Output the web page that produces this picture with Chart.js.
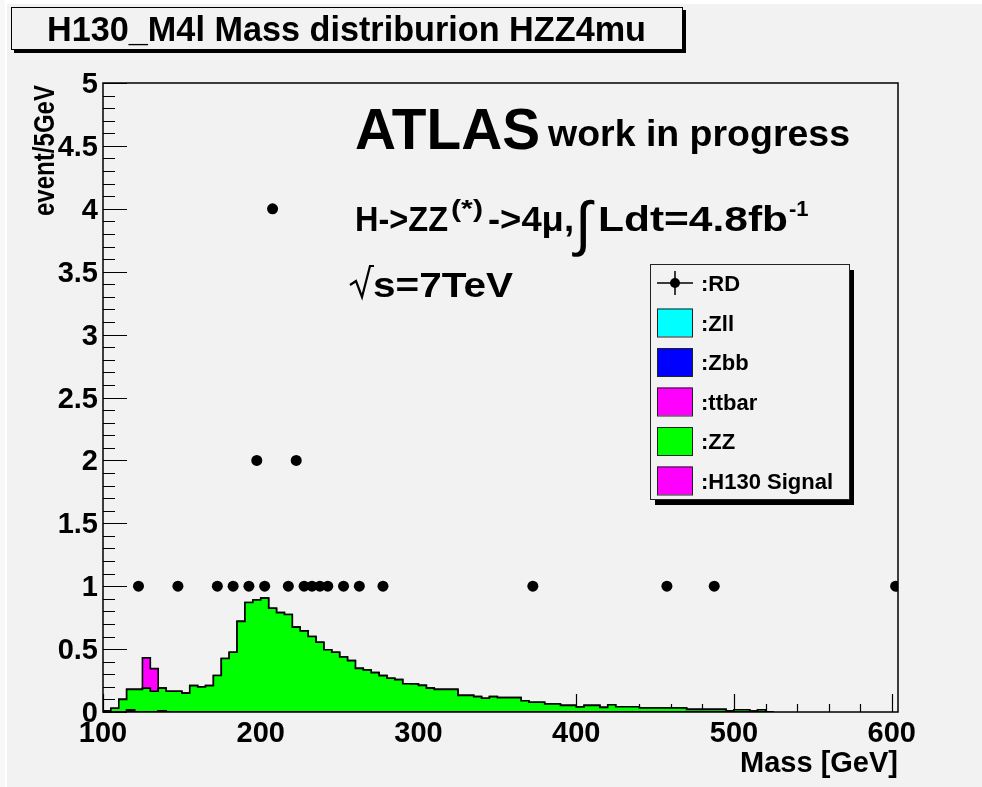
<!DOCTYPE html>
<html>
<head>
<meta charset="utf-8">
<script src="https://cdn.jsdelivr.net/npm/chart.js@4.4.0/dist/chart.umd.min.js"></script>
<style>
  body { margin: 0; background: #f2f2f2; }
  canvas { display: block; }
</style>
</head>
<body>
<canvas id="chart" width="982" height="787"></canvas>
<script>
// histogram binning: 5 GeV bins from 100 GeV
var binStart = 100;
var binWidth = 5;

// MC contributions per bin (events / 5 GeV)
var zz = [0.01, 0.03, 0.10, 0.165, 0.18, 0.19, 0.165, 0.18, 0.165, 0.165,
          0.15, 0.21, 0.20, 0.21, 0.29, 0.425, 0.475, 0.72, 0.87, 0.89,
          0.905, 0.825, 0.79, 0.775, 0.675, 0.645, 0.60, 0.555, 0.495, 0.475,
          0.437, 0.408, 0.347, 0.334, 0.313, 0.289, 0.268, 0.257, 0.225, 0.223,
          0.212, 0.19, 0.18, 0.18, 0.18, 0.132, 0.132, 0.122, 0.109, 0.122,
          0.114, 0.114, 0.114, 0.09, 0.077, 0.077, 0.064, 0.064, 0.053, 0.053,
          0.04, 0.053, 0.053, 0.037, 0.058, 0.042, 0.042, 0.042, 0.032, 0.032,
          0.032, 0.032, 0.032, 0.032, 0.021, 0.021, 0.021, 0.021, 0.021, 0.01,
          0.018, 0.018, 0.008, 0.018, 0];
var zbb = [0, 0, 0, 0.015, 0, 0, 0, 0.01];
var zll = [];    // nothing visible
var ttbar = [];  // nothing visible
var h130 = [0, 0, 0, 0, 0, 0.24, 0.18];

// real data (RD): bin centres and event counts
var rdMass = [122.5, 147.5, 172.5, 182.5, 192.5, 197.5, 202.5, 207.5, 217.5, 222.5,
              227.5, 232.5, 237.5, 242.5, 252.5, 262.5, 277.5, 372.5, 457.5, 487.5, 602.5];
var rdEvents = [1, 1, 1, 1, 1, 2, 1, 4, 1, 2,
                1, 1, 1, 1, 1, 1, 1, 1, 1, 1, 1];

var xTickLabels = ['100', '200', '300', '400', '500', '600'];
var yTickLabels = ['0', '0.5', '1', '1.5', '2', '2.5', '3', '3.5', '4', '4.5', '5'];

var FONT = '"Liberation Sans", Arial, Helvetica, sans-serif';
var BG = '#f2f2f2';

// stack: Zll, Zbb, ttbar, ZZ, signal (bottom -> top)
var nBins = zz.length;
function val(a, i) { return a[i] || 0; }
var stackOrder = [zll, zbb, ttbar, zz, h130];
var levels = [];
var run = [];
for (var i = 0; i < nBins; i++) run.push(0);
stackOrder.forEach(function (h) {
  var pts = [];
  for (var i = 0; i < nBins; i++) {
    run[i] += val(h, i);
    pts.push({ x: binStart + i * binWidth, y: run[i] });
  }
  pts.push({ x: binStart + nBins * binWidth, y: 0 });
  levels.push(pts);
});

function stepSet(label, pts, color) {
  return {
    type: 'line', label: label, data: pts, stepped: true,
    borderColor: '#000', borderWidth: 1.6, backgroundColor: color,
    fill: 'origin', pointRadius: 0
  };
}

var rdPoints = rdMass.map(function (m, i) { return { x: m, y: rdEvents[i] }; });

function bold(ctx, size) { ctx.font = 'bold ' + size + 'px ' + FONT; }

// bold text squeezed/stretched to a given width
function fitText(ctx, s, x, y, size, width) {
  bold(ctx, size);
  var w = ctx.measureText(s).width;
  ctx.save();
  ctx.translate(x, y);
  ctx.scale(width / w, 1);
  ctx.textAlign = 'left';
  ctx.fillText(s, 0, 0);
  ctx.restore();
}

var rootStyle = {
  id: 'rootStyle',
  beforeDraw: function (chart) {
    var ctx = chart.ctx;
    ctx.save();
    ctx.fillStyle = BG;
    ctx.fillRect(0, 0, chart.width, chart.height);
    // light canvas edge
    ctx.fillStyle = '#ffffff';
    ctx.fillRect(0, 0, chart.width, 4);
    ctx.fillStyle = '#f8f8f8';
    ctx.fillRect(0, 0, 5, chart.height);
    ctx.fillStyle = '#ffffff';
    ctx.fillRect(5, 4, 2, chart.height);
    ctx.restore();
  },
  beforeDatasetsDraw: function (chart) {
    var ctx = chart.ctx, a = chart.chartArea;
    var xs = chart.scales.x, ys = chart.scales.y;
    ctx.save();
    ctx.strokeStyle = '#000';
    ctx.lineWidth = 1.2;
    ctx.beginPath();
    for (var v = 0; v <= 50; v++) {
      var py = Math.round(ys.getPixelForValue(v / 10)) + 0.5;
      var len = (v % 5 === 0) ? 24 : 12;
      ctx.moveTo(a.left, py); ctx.lineTo(a.left + len, py);
    }
    for (var g = 100; g <= 600; g += 20) {
      var px = Math.round(xs.getPixelForValue(g)) + 0.5;
      var l2 = (g % 100 === 0) ? 18 : 8;
      ctx.moveTo(px, a.bottom); ctx.lineTo(px, a.bottom - l2);
    }
    ctx.stroke();
    ctx.restore();
  },
  afterDatasetsDraw: function (chart) {
    var ctx = chart.ctx, a = chart.chartArea;
    var xs = chart.scales.x, ys = chart.scales.y;
    ctx.save();
    // frame
    ctx.strokeStyle = '#000';
    ctx.lineWidth = 1.5;
    ctx.strokeRect(a.left, a.top, a.right - a.left, a.bottom - a.top);
    ctx.fillStyle = '#000';

    // tick labels
    bold(ctx, 29);
    ctx.textAlign = 'right'; ctx.textBaseline = 'middle';
    yTickLabels.forEach(function (t) {
      ctx.fillText(t, a.left - 5, ys.getPixelForValue(parseFloat(t)) + 2);
    });
    ctx.textAlign = 'center'; ctx.textBaseline = 'alphabetic';
    xTickLabels.forEach(function (t) {
      ctx.fillText(t, xs.getPixelForValue(parseFloat(t)), 742);
    });

    // axis titles
    ctx.textAlign = 'right';
    ctx.fillText('Mass [GeV]', a.right, 772);
    ctx.save();
    ctx.translate(54, a.top + 133);
    ctx.rotate(-Math.PI / 2);
    fitText(ctx, 'event/5GeV', 0, 0, 29, 131);
    ctx.restore();

    // ATLAS label
    fitText(ctx, 'ATLAS', 355, 149, 58, 185);
    fitText(ctx, 'work in progress', 548, 146, 36, 302);

    // H->ZZ(*)->4mu, int L dt
    var yb = 231;
    fitText(ctx, 'H->ZZ', 355, yb, 35, 93);
    fitText(ctx, '(*)', 451, yb - 14, 24, 32);
    fitText(ctx, '->4\u03bc,', 488, yb, 35, 86);
    ctx.font = '60px ' + FONT;
    ctx.textAlign = 'left';
    ctx.fillText('\u222b', 575, yb + 13);
    fitText(ctx, 'Ldt=4.8fb', 598, yb, 35, 190);
    bold(ctx, 22);
    ctx.fillText('-1', 789, yb - 15);

    // sqrt(s)=7TeV
    ctx.strokeStyle = '#000';
    ctx.lineWidth = 2.2;
    ctx.beginPath();
    ctx.moveTo(350, 285); ctx.lineTo(356, 281); ctx.lineTo(362, 297);
    ctx.lineTo(370, 266); ctx.lineTo(374, 266);
    ctx.stroke();
    fitText(ctx, 's=7TeV', 373, 297, 35, 140);

    // legend
    var L = { x: 650, y: 264, w: 199, h: 235 };
    ctx.fillStyle = '#000';
    ctx.fillRect(L.x + 5, L.y + 6, L.w, L.h);
    ctx.fillStyle = BG;
    ctx.fillRect(L.x, L.y, L.w, L.h);
    ctx.strokeStyle = '#222'; ctx.lineWidth = 1;
    ctx.strokeRect(L.x + 0.5, L.y + 0.5, L.w, L.h);
    var entries = [
      { t: ':RD' }, { t: ':Zll', c: '#00ffff' }, { t: ':Zbb', c: '#0000ff' },
      { t: ':ttbar', c: '#ff00ff' }, { t: ':ZZ', c: '#00ff00' }, { t: ':H130 Signal', c: '#ff00ff' }
    ];
    bold(ctx, 22);
    ctx.textAlign = 'left'; ctx.textBaseline = 'middle';
    entries.forEach(function (e, k) {
      var cy = 283 + k * 39.5;
      if (!e.c) {
        ctx.strokeStyle = '#000'; ctx.lineWidth = 1.5;
        ctx.beginPath();
        ctx.moveTo(657, cy); ctx.lineTo(693, cy);
        ctx.moveTo(675, cy - 12); ctx.lineTo(675, cy + 12);
        ctx.stroke();
        ctx.fillStyle = '#000';
        ctx.beginPath(); ctx.arc(675, cy, 5, 0, Math.PI * 2); ctx.fill();
      } else {
        ctx.fillStyle = e.c;
        ctx.fillRect(657, cy - 14, 35, 28);
        ctx.strokeStyle = '#222'; ctx.lineWidth = 1;
        ctx.strokeRect(657.5, cy - 13.5, 35, 28);
      }
      ctx.fillStyle = '#000';
      ctx.fillText(e.t, 701, cy + 2);
    });

    // title box
    ctx.textBaseline = 'alphabetic';
    ctx.fillStyle = '#000';
    ctx.fillRect(14, 10, 672, 43);
    ctx.fillStyle = BG;
    ctx.fillRect(11, 7, 672, 43);
    ctx.strokeStyle = '#000'; ctx.lineWidth = 1;
    ctx.strokeRect(11.5, 7.5, 671, 42);
    ctx.fillStyle = '#000';
    fitText(ctx, 'H130_M4l Mass distriburion HZZ4mu', 47, 41, 35, 599);
    ctx.restore();
  }
};

new Chart(document.getElementById('chart').getContext('2d'), {
  type: 'line',
  data: {
    datasets: [
      { type: 'scatter', label: 'RD', data: rdPoints, pointRadius: 5.5,
        pointBackgroundColor: '#000', pointBorderWidth: 0, showLine: false },
      stepSet('Zll', levels[0], '#00ffff'),
      stepSet('Zbb', levels[1], '#0000ff'),
      stepSet('ttbar', levels[2], '#ff00ff'),
      stepSet('ZZ', levels[3], '#00ff00'),
      stepSet('H130 Signal', levels[4], '#ff00ff')
    ]
  },
  options: {
    responsive: false,
    animation: false,
    events: [],
    layout: { padding: { left: 103, top: 83, right: 84, bottom: 75 } },
    plugins: { legend: { display: false }, tooltip: { enabled: false } },
    scales: {
      x: { type: 'linear', display: false, min: 100, max: 604 },
      y: { type: 'linear', display: false, min: 0, max: 5 }
    }
  },
  plugins: [rootStyle]
});
</script>
</body>
</html>
